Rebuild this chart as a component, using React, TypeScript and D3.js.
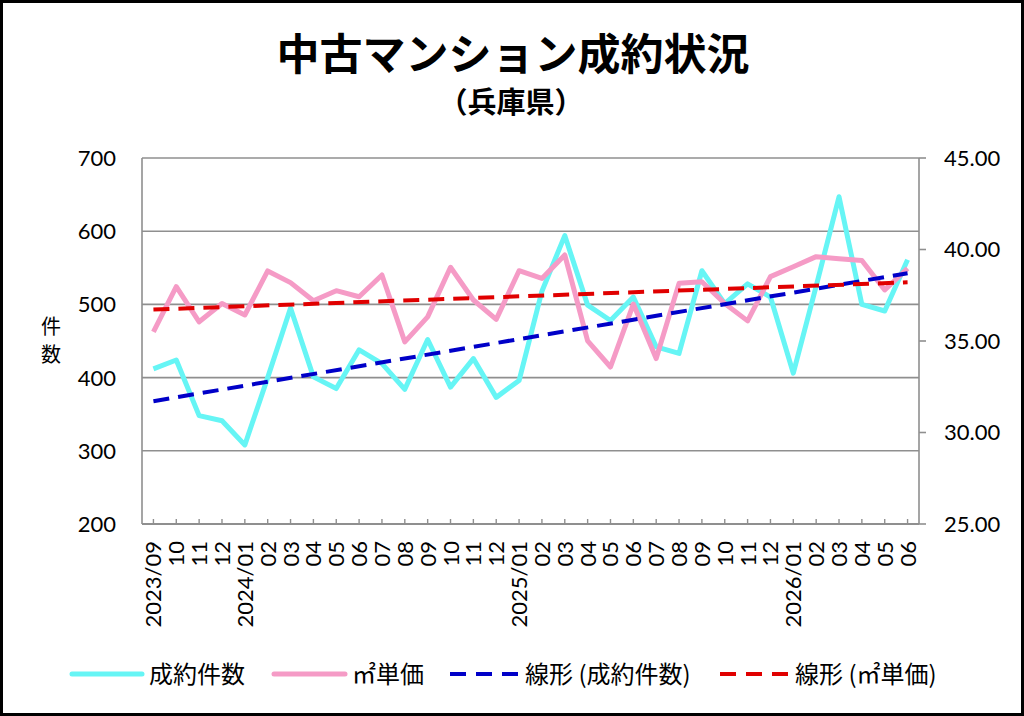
import React from 'react'
import * as d3 from 'd3'

// 月ラベル（横軸）
const months = [
  '2023/09', '10', '11', '12',
  '2024/01', '02', '03', '04', '05', '06', '07', '08', '09', '10', '11', '12',
  '2025/01', '02', '03', '04', '05', '06', '07', '08', '09', '10', '11', '12',
  '2026/01', '02', '03', '04', '05', '06',
]
// 成約件数（左軸）
const deals = [
  412, 424, 348, 341, 308, 400, 495, 401, 385, 438, 419, 384, 452, 387, 426, 373, 396,
  518, 594, 499, 478, 510, 442, 433, 546, 501, 528, 510, 406, 525, 647, 500, 491, 561,
]
// ㎡単価（右軸）
const unitPrice = [
  35.5, 37.97, 36.05, 37.05, 36.42, 38.83, 38.19, 37.2, 37.75, 37.42, 38.61, 34.95, 36.32,
  39.03, 37.24, 36.18, 38.84, 38.42, 39.7, 35.01, 33.58, 37.02, 34.04, 38.15, 38.24, 37.05,
  36.1, 38.52, 39.06, 39.61, 39.5, 39.4, 37.79, 38.97,
]
const leftTicks = [200, 300, 400, 500, 600, 700]
const rightTicks = [25, 30, 35, 40, 45]

const W = 1024
const H = 716
const L = 142
const R = 919
const T = 158
const B = 524

const numFont = "Lato, 'Noto Sans CJK JP', sans-serif"
const jpFont = "'Noto Sans CJK JP', sans-serif"

const CYAN = '#66f5f5'
const PINK = '#f59bc6'
const BLUE = '#0000c8'
const RED = '#e00000'
const GRID = '#8f8f8f'

// 最小二乗法で線形近似
function linearFit(values: number[]) {
  const n = values.length
  const xs = d3.range(n)
  const mx = d3.mean(xs) as number
  const my = d3.mean(values) as number
  let sxy = 0
  let sxx = 0
  xs.forEach((x, i) => {
    sxy += (x - mx) * (values[i] - my)
    sxx += (x - mx) * (x - mx)
  })
  const slope = sxy / sxx
  const b = my - slope * mx
  return [b, b + slope * (n - 1)]
}

export default function App() {
  const x = d3.scaleBand<number>().domain(d3.range(months.length)).range([L, R])
  const cx = (i: number) => (x(i) as number) + x.bandwidth() / 2
  const yL = d3.scaleLinear().domain([200, 700]).range([B, T])
  const yR = d3.scaleLinear().domain([25, 45]).range([B, T])

  const dealLine = d3
    .line<number>()
    .x((_, i) => cx(i))
    .y(d => yL(d))
  const priceLine = d3
    .line<number>()
    .x((_, i) => cx(i))
    .y(d => yR(d))

  const dealTrend = linearFit(deals)
  const priceTrend = linearFit(unitPrice)
  const last = months.length - 1

  const legend = [
    {x1: 72, x2: 142, color: CYAN, dash: undefined, w: 5, text: '成約件数'},
    {x1: 274, x2: 345, color: PINK, dash: undefined, w: 5, text: '㎡単価'},
    {x1: 450, x2: 518, color: BLUE, dash: '16 10', w: 4, text: '線形 (成約件数)'},
    {x1: 720, x2: 788, color: RED, dash: '16 10', w: 4, text: '線形 (㎡単価)'},
  ]

  return (
    <svg
      width={W}
      height={H}
      style={{position: 'absolute', left: 0, top: 0, background: '#fff'}}>
      <rect x={1.5} y={1.5} width={W - 3} height={H - 3} fill="#fff" stroke="#000" strokeWidth={3} />

      <text x={513} y={70} textAnchor="middle" fontFamily={jpFont} fontWeight={700} fontSize={43}>
        中古マンション成約状況
      </text>
      <text x={511} y={113} textAnchor="middle" fontFamily={jpFont} fontWeight={700} fontSize={29}>
        （兵庫県）
      </text>

      {/* grid */}
      {leftTicks.map(t => (
        <line key={t} x1={L} x2={R} y1={yL(t)} y2={yL(t)} stroke={GRID} strokeWidth={t === 200 ? 2 : 1.6} />
      ))}
      <line x1={L} x2={L} y1={T} y2={B} stroke={GRID} strokeWidth={1.6} />
      <line x1={R} x2={R} y1={T} y2={B} stroke={GRID} strokeWidth={1.6} />
      {rightTicks.map(t => (
        <line key={t} x1={R} x2={R + 7} y1={yR(t)} y2={yR(t)} stroke={GRID} strokeWidth={1.6} />
      ))}
      {months.map((_, i) => (
        <line key={i} x1={cx(i)} x2={cx(i)} y1={B} y2={B - 5} stroke={GRID} strokeWidth={1.4} />
      ))}

      {/* axis labels */}
      {leftTicks.map(t => (
        <text key={t} x={116} y={yL(t)} dy="0.36em" textAnchor="end" fontFamily={numFont} fontSize={22}>
          {t}
        </text>
      ))}
      {rightTicks.map(t => (
        <text key={t} x={944} y={yR(t)} dy="0.36em" fontFamily={numFont} fontSize={22}>
          {t.toFixed(2)}
        </text>
      ))}
      {months.map((m, i) => (
        <text
          key={i}
          transform={`translate(${cx(i) + 8},${541}) rotate(-90)`}
          textAnchor="end"
          fontFamily={numFont}
          fontSize={22}>
          {m}
        </text>
      ))}
      <text x={51} y={334} textAnchor="middle" fontFamily={jpFont} fontSize={20}>件</text>
      <text x={51} y={362} textAnchor="middle" fontFamily={jpFont} fontSize={20}>数</text>

      {/* series */}
      <path d={dealLine(deals) as string} fill="none" stroke={CYAN} strokeWidth={5} strokeLinejoin="round" />
      <path d={priceLine(unitPrice) as string} fill="none" stroke={PINK} strokeWidth={5} strokeLinejoin="round" />
      <line
        x1={cx(0)}
        x2={cx(last)}
        y1={yL(dealTrend[0])}
        y2={yL(dealTrend[1])}
        stroke={BLUE}
        strokeWidth={4}
        strokeDasharray="16 9"
      />
      <line
        x1={cx(0)}
        x2={cx(last)}
        y1={yR(priceTrend[0])}
        y2={yR(priceTrend[1])}
        stroke={RED}
        strokeWidth={4}
        strokeDasharray="16 9"
      />

      {/* legend */}
      {legend.map(l => (
        <g key={l.text}>
          <line
            x1={l.x1}
            x2={l.x2}
            y1={674}
            y2={674}
            stroke={l.color}
            strokeWidth={l.w}
            strokeDasharray={l.dash}
            strokeLinecap={l.dash ? 'butt' : 'round'}
          />
          <text x={l.x2 + 7} y={674} dy="0.36em" fontFamily={jpFont} fontSize={24}>
            {l.text}
          </text>
        </g>
      ))}
    </svg>
  )
}
